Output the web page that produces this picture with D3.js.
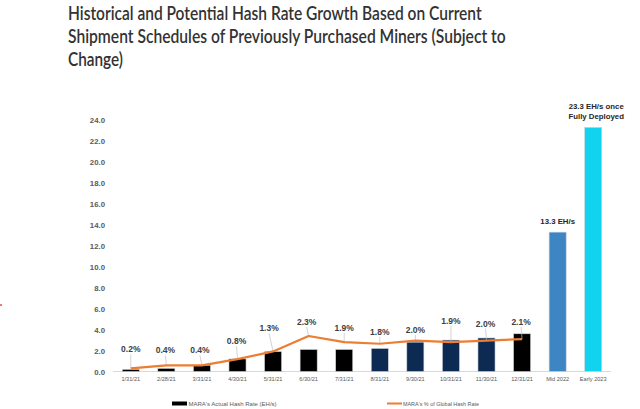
<!DOCTYPE html>
<html><head><meta charset="utf-8">
<script src="https://cdn.jsdelivr.net/npm/d3@7"></script>
<style>html,body{margin:0;padding:0;background:#fff;}svg{display:block;}</style>
</head><body>
<svg id="chart" width="640" height="409"></svg>
<script>
const categories = ["1/31/21","2/28/21","3/31/21","4/30/21","5/31/21","6/30/21","7/31/21","8/31/21","9/30/21","10/31/21","11/30/21","12/31/21","Mid 2022","Early 2023"];
const hashRate = [0.2,0.3,0.6,1.2,1.9,2.1,2.1,2.2,2.8,3.0,3.2,3.6,13.3,23.3];
const globalShare = [0.2,0.4,0.4,0.8,1.3,2.3,1.9,1.8,2.0,1.9,2.0,2.1];
const shareLabels = ["0.2%","0.4%","0.4%","0.8%","1.3%","2.3%","1.9%","1.8%","2.0%","1.9%","2.0%","2.1%"];
const yTicks = [0,2,4,6,8,10,12,14,16,18,20,22,24];
const barGroup = ["hist","hist","hist","hist","hist","hist","hist","navy","navy","navy","navy","hist","mid","early"];
const barNotes = {"Mid 2022":["13.3 EH/s"],"Early 2023":["23.3 EH/s once","Fully Deployed"]};
const titleLines = ["Historical and Potential Hash Rate Growth Based on Current","Shipment Schedules of Previously Purchased Miners (Subject to","Change)"];
const legendItems = ["MARA's Actual Hash Rate (EH/s)","MARA's % of Global Hash Rate"];

// layout
const labelLift = [19,15,15,18,23,14,14,12,11,21,17,17];
const labelShift = [0,-1,-2,-1,-4,-2,0,0,0,0,-1,-1];
const colors = {hist:"#000000", navy:"#0c2a52", mid:"#3e85c4", early:"#12d3ef"};
const svg = d3.select("#chart");

const x = d3.scaleBand().domain(categories).range([113,611]).paddingInner(0.52).paddingOuter(0.26);
const y = d3.scaleLinear().domain([0,24]).range([371.5,120]);
const y2 = d3.scaleLinear().domain([0,16.3]).range([371.5,120]);

// title (horizontally scaled to the reference's narrower face)
const tw = [414, 438, 55];
svg.append("g").selectAll("text").data(titleLines).join("text")
  .attr("x",0).attr("y",0)
  .attr("font-family","Lato, 'Open Sans', sans-serif").attr("font-size",19).attr("font-weight",600)
  .attr("fill","#333333").text(d=>d)
  .each(function(d,i){
    const w = this.getComputedTextLength();
    d3.select(this).attr("transform",`translate(68,${19.5+i*23}) scale(${tw[i]/w},1)`);
  });

// y axis
const yAxis = d3.axisLeft(y).tickValues(yTicks).tickFormat(d3.format(".1f")).tickSize(0).tickPadding(0);
const ga = svg.append("g").attr("transform","translate(105,0)").call(yAxis);
ga.select(".domain").remove();
ga.selectAll("text").attr("font-family","'Liberation Sans', Arial, sans-serif").attr("font-size",7.8)
  .attr("font-weight","bold").attr("fill","#595959");

// x axis
const xAxis = d3.axisBottom(x).tickSize(0).tickPadding(6);
const gx = svg.append("g").attr("transform","translate(0,371.5)").call(xAxis);
gx.select(".domain").attr("stroke","#d9d9d9").attr("stroke-width",1.2).attr("d","M113,0H611");
gx.selectAll("text").attr("font-family","'Liberation Sans', Arial, sans-serif").attr("font-size",5.6)
  .attr("fill","#595959");

// bars
svg.append("g").selectAll("rect").data(categories).join("rect")
  .attr("x",d=>x(d)).attr("width",x.bandwidth())
  .attr("y",(d,i)=>y(hashRate[i])).attr("height",(d,i)=>y(0)-y(hashRate[i]))
  .attr("fill",(d,i)=>colors[barGroup[i]]).attr("stroke","#d0d4da").attr("stroke-width",0.6);

// bar notes
Object.entries(barNotes).forEach(([cat,lines])=>{
  const i = categories.indexOf(cat);
  svg.append("g").selectAll("text").data(lines).join("text")
    .attr("x",x(cat)+x.bandwidth()/2 + (lines.length>1?3:0))
    .attr("y",(d,k)=>y(hashRate[i]) - 8 - (lines.length-1-k)*10.5)
    .attr("text-anchor","middle").attr("font-family","'Liberation Sans', Arial, sans-serif")
    .attr("font-size",7.8).attr("font-weight","bold").attr("fill","#262626").text(d=>d);
});

// line
const cx = d=>x(d)+x.bandwidth()/2;
const lineData = globalShare.map((v,i)=>[cx(categories[i]), y2(v)]);
// leader lines
svg.append("g").selectAll("line").data(lineData).join("line")
  .attr("x1",(d,i)=>d[0]+labelShift[i]).attr("y1",(d,i)=>d[1]-labelLift[i]+5)
  .attr("x2",d=>d[0]).attr("y2",d=>d[1])
  .attr("stroke","#bfbfbf").attr("stroke-width",0.7);
svg.append("path").datum(lineData)
  .attr("d",d3.line()).attr("fill","none").attr("stroke","#ed7d31").attr("stroke-width",2.2)
  .attr("stroke-linejoin","round");
// labels
svg.append("g").selectAll("text").data(lineData).join("text")
  .attr("x",(d,i)=>d[0]+labelShift[i]).attr("y",(d,i)=>d[1]-labelLift[i]+3)
  .attr("text-anchor","middle").attr("font-family","'Liberation Sans', Arial, sans-serif")
  .attr("font-size",8.5).attr("font-weight","bold").attr("fill","#404040")
  .text((d,i)=>shareLabels[i]);

// legend
const lg = svg.append("g");
lg.append("rect").attr("x",172).attr("y",401.5).attr("width",15).attr("height",4).attr("fill","#000");
lg.append("line").attr("x1",387).attr("x2",402).attr("y1",403.5).attr("y2",403.5).attr("stroke","#ed7d31").attr("stroke-width",2);
lg.selectAll("text").data(legendItems).join("text")
  .attr("x",0).attr("y",0)
  .attr("font-family","'Liberation Sans', Arial, sans-serif").attr("font-size",5.6).attr("fill","#595959")
  .text(d=>d)
  .each(function(d,i){
    const w = this.getComputedTextLength();
    const tgt = i===0?88:76;
    d3.select(this).attr("transform",`translate(${i===0?188.5:403},405.5) scale(${tgt/w},1)`);
  });

// stray mark on left edge
svg.append("rect").attr("x",0).attr("y",304).attr("width",2).attr("height",2).attr("fill","#f07a7a");
</script>
</body></html>
